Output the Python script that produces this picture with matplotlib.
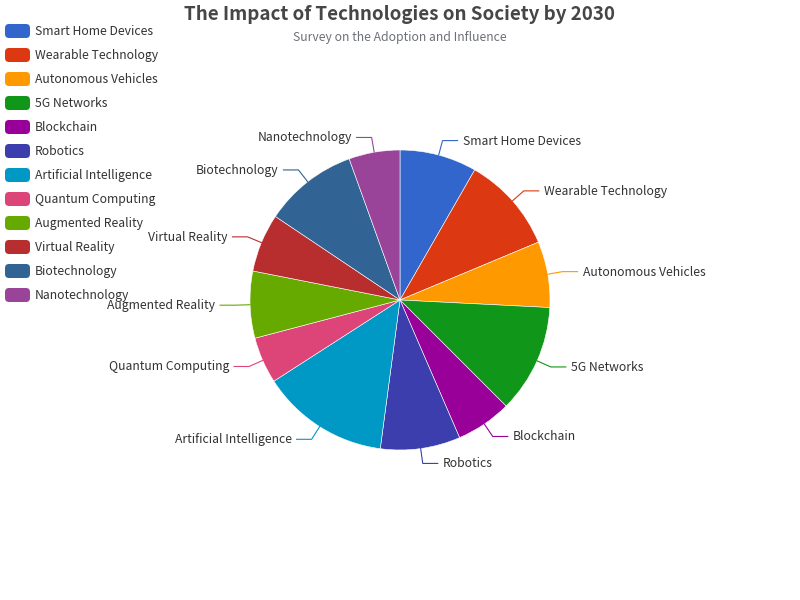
import numpy as np
import matplotlib.pyplot as plt
from matplotlib.patches import FancyBboxPatch

plt.rcParams['font.family'] = ['Noto Sans CJK SC', 'DejaVu Sans']

# data (share of total, %)
technologies = ['Smart Home Devices', 'Wearable Technology', 'Autonomous Vehicles', '5G Networks',
                'Blockchain', 'Robotics', 'Artificial Intelligence', 'Quantum Computing',
                'Augmented Reality', 'Virtual Reality', 'Biotechnology', 'Nanotechnology']
shares = [8.3, 10.4, 7.1, 11.7, 6.0, 8.6, 13.8, 5.0, 7.2, 6.3, 10.1, 5.5]
colors = ['#3366cc', '#dc3912', '#ff9900', '#109618', '#990099', '#3b3eac',
          '#0099c6', '#dd4477', '#66aa00', '#b82e2e', '#316395', '#994499']

W, H = 800, 600
cx, cy, r = 400, 300, 150

fig = plt.figure(figsize=(8, 6), dpi=100)
ax = fig.add_axes([0, 0, 1, 1])

wedges, _ = ax.pie(shares, colors=colors, startangle=90, counterclock=False,
                   center=(cx, H - cy), radius=r,
                   wedgeprops=dict(edgecolor='white', linewidth=0.4))

# leader lines + outside labels (15px radial, 15px horizontal)
for w, name, col in zip(wedges, technologies, colors):
    mid = np.deg2rad((w.theta1 + w.theta2) / 2)
    dx, dy = np.cos(mid), np.sin(mid)
    x1, y1 = cx + r * dx, (H - cy) + r * dy
    x2, y2 = cx + (r + 15) * dx, (H - cy) + (r + 15) * dy
    side = 1 if dx >= 0 else -1
    x3 = x2 + 15 * side
    ax.plot([x1, x2, x3], [y1, y2, y2], color=col, lw=0.8, solid_joinstyle='miter')
    ax.text(x3 + 5 * side, y2 + 1, name, ha='left' if side > 0 else 'right', va='center_baseline',
            fontsize=8.8, color='#333333')

# legend on the left
for i, (name, col) in enumerate(zip(technologies, colors)):
    yc = H - (31 + 24 * i)
    ax.add_patch(FancyBboxPatch((5, yc - 7), 25, 14, boxstyle='round,pad=0,rounding_size=4',
                                facecolor=col, edgecolor='none'))
    ax.text(35, yc + 1, name, ha='left', va='center_baseline', fontsize=8.8, color='#333333')

ax.text(W / 2, H - 12, 'The Impact of Technologies on Society by 2030', ha='center', va='center_baseline',
        fontsize=13.5, fontweight='bold', color='#464646')
ax.text(W / 2, H - 36, 'Survey on the Adoption and Influence', ha='center', va='center_baseline',
        fontsize=8.8, color='#6e7079')

ax.set_xlim(0, W)
ax.set_ylim(0, H)
ax.set_aspect('equal')
ax.axis('off')

fig.savefig('out.png', dpi=100, facecolor='white')
